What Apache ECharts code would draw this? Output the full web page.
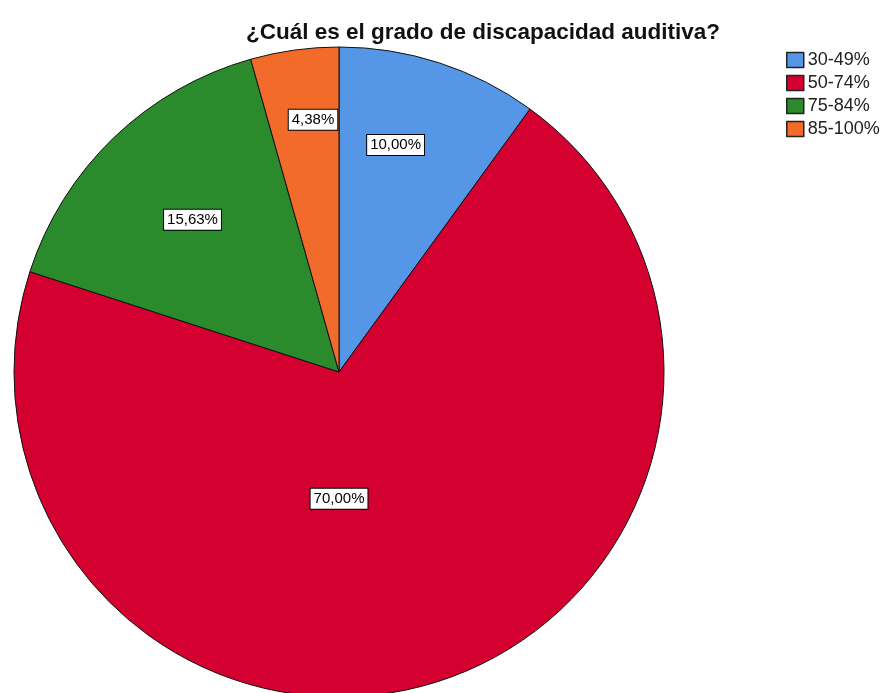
<!DOCTYPE html>
<html>
<head>
<meta charset="utf-8">
<script src="https://cdn.jsdelivr.net/npm/echarts@6/dist/echarts.min.js"></script>
<style>
  html, body { margin: 0; padding: 0; background: #fff; }
</style>
</head>
<body>
<div id="main" style="width: 881px;height: 693px"></div>
<script>
  // grados de discapacidad y porcentajes
  const categories = ['30-49%', '50-74%', '75-84%', '85-100%']
  const percents = [10.00, 70.00, 15.63, 4.38]
  const colors = ['#5596e6', '#d40030', '#2a8a2c', '#f36b2b']
  // colocación de etiquetas: fracción del radio y giro (grados) respecto al ángulo medio
  const labelRadius = [0.72, 0.39, 0.65, 0.78]
  const labelTurn = [-4, 18, 0, 2]

  const cx = 339
  const cy = 372
  const r = 325

  const chart = echarts.init(document.getElementById('main'))
  chart.setOption({
    animation: false,
    title: {
      text: '¿Cuál es el grado de discapacidad auditiva?',
      left: 483,
      top: 21,
      padding: 0,
      textAlign: 'center',
      textStyle: {
        fontFamily: 'Liberation Sans',
        fontSize: 22.5,
        fontWeight: 'bold',
        color: '#111'
      }
    },
    legend: {
      orient: 'vertical',
      left: 786,
      top: 51,
      padding: 0,
      icon: 'rect',
      itemWidth: 17,
      itemHeight: 15,
      itemGap: 5,
      itemStyle: {
        borderColor: '#222',
        borderWidth: 1.5
      },
      textStyle: {
        fontFamily: 'Liberation Sans',
        fontSize: 18,
        color: '#222',
        padding: [0, 0, 0, -1]
      },
      data: categories
    },
    series: [
      {
        type: 'pie',
        center: [cx, cy],
        radius: r,
        startAngle: 90,
        clockwise: true,
        color: colors,
        itemStyle: {
          borderColor: '#111',
          borderWidth: 1
        },
        emphasis: { disabled: true },
        labelLine: { show: false },
        label: {
          show: true,
          position: 'inside',
          fontFamily: 'Liberation Sans',
          fontSize: 15,
          color: '#000',
          backgroundColor: '#fff',
          borderColor: '#000',
          borderWidth: 1,
          padding: [3, 3, 2, 3],
          formatter: function (p) {
            return p.value.toFixed(2).replace('.', ',') + '%'
          }
        },
        labelLayout: function (params) {
          const lr = params.labelRect
          const dx = lr.x + lr.width / 2 - cx
          const dy = lr.y + lr.height / 2 - cy
          const a = Math.atan2(dx, -dy) + labelTurn[params.dataIndex] * Math.PI / 180
          const f = labelRadius[params.dataIndex] * r
          return {
            x: cx + Math.sin(a) * f,
            y: cy - Math.cos(a) * f,
            align: 'center',
            verticalAlign: 'middle'
          }
        },
        data: categories.map(function (c, i) {
          return { name: c, value: percents[i] }
        })
      }
    ]
  })
</script>
</body>
</html>
